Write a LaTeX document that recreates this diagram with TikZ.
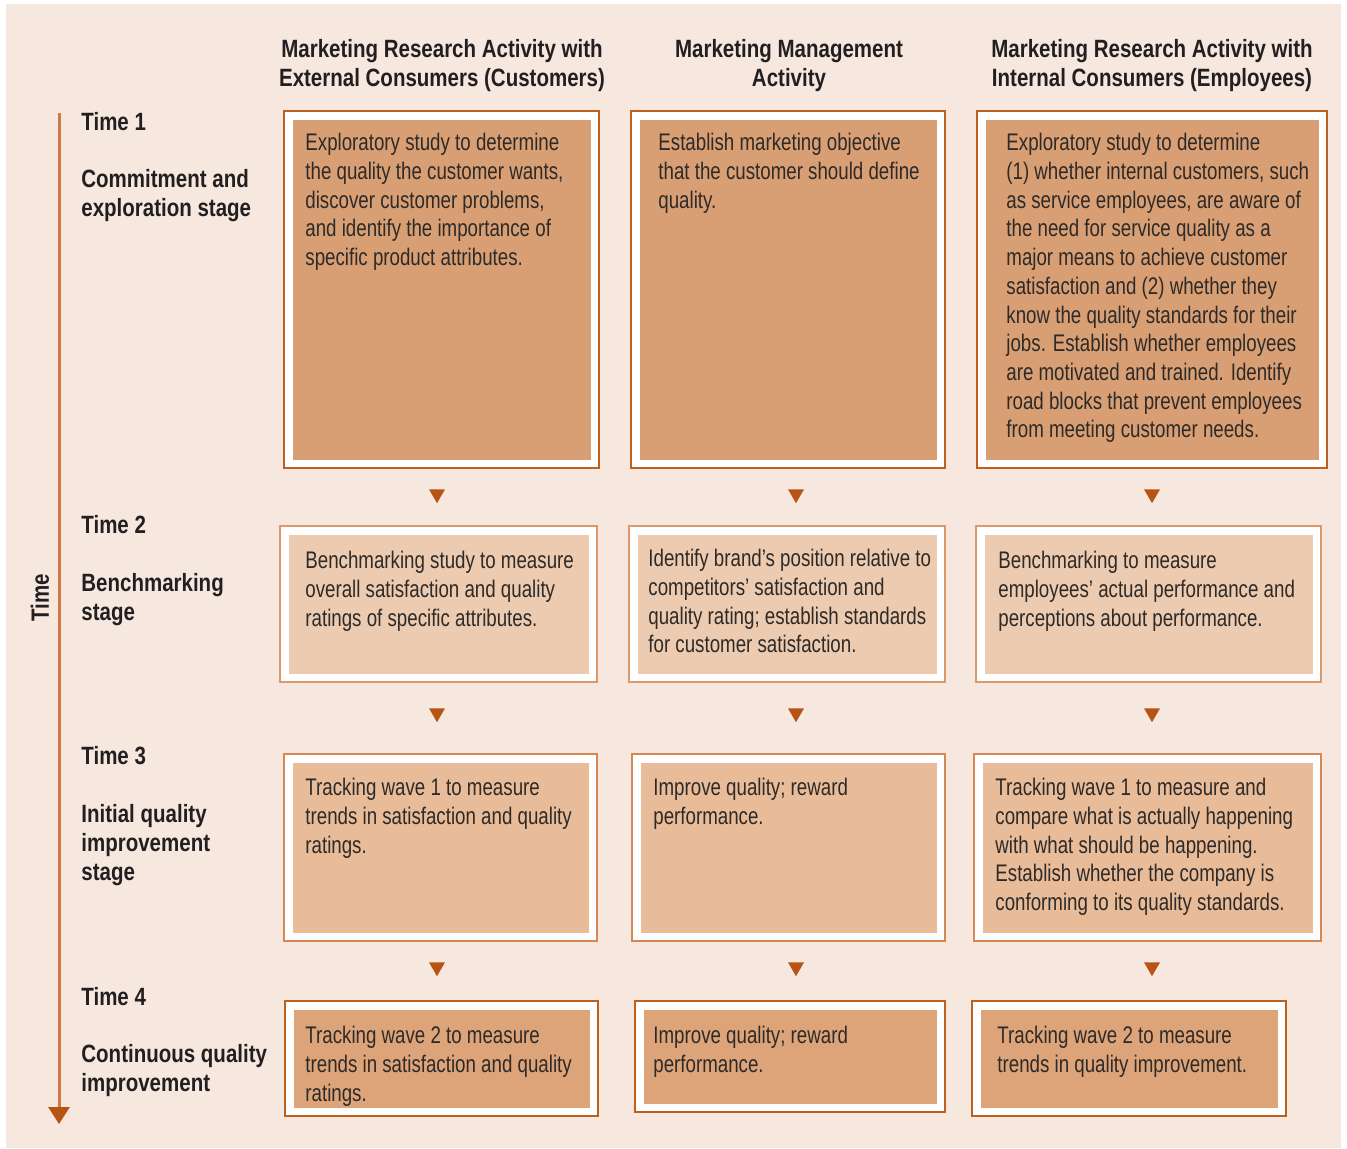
\documentclass[tikz,border=0pt]{standalone}
\usepackage{fontspec}
\setmainfont{Liberation Sans}[FakeStretch=0.78]
\newfontfamily\headfont{Liberation Sans}[FakeStretch=0.82]
\usepackage{tikz}
\usetikzlibrary{shapes.geometric}
\usetikzlibrary{arrows.meta}
\usetikzlibrary{fit}

\definecolor{paper}{HTML}{F6E8DE}
\definecolor{bodyink}{HTML}{2E2A28}
\definecolor{headink}{HTML}{231F20}
\definecolor{markink}{HTML}{B85413}
\definecolor{axisline}{HTML}{CD7A45}
\definecolor{edgeA}{HTML}{BE5F1E}
\definecolor{fillA}{HTML}{D99F74}
\definecolor{edgeB}{HTML}{DD986A}
\definecolor{fillB}{HTML}{ECCBB0}
\definecolor{edgeC}{HTML}{D58755}
\definecolor{fillC}{HTML}{E8BC99}
\definecolor{edgeD}{HTML}{BE5F1E}
\definecolor{fillD}{HTML}{DDA47A}

\tikzset{
    stagebox/.style 2 args={draw=#1, line width=1pt, fill=white, inner sep=0pt,
        path picture={\fill[#2] ([xshift=4.25pt,yshift=-4.25pt]path picture bounding box.north west) rectangle ([xshift=-4.25pt,yshift=4.25pt]path picture bounding box.south east);}},
}

\begin{document}
\begin{tikzpicture}[x=0.5pt, y=-0.5pt,
    bodytext/.style={anchor=north west, align=left, inner sep=0pt, text=bodyink, font=\fontsize{12}{14.35}\selectfont},
    headtext/.style={anchor=north, align=center, inner sep=0pt, text=headink, font=\headfont\bfseries\fontsize{12.5}{14.5}\selectfont},
    stagelabel/.style={anchor=north west, align=left, inner sep=0pt, text=headink, font=\headfont\bfseries\fontsize{12.5}{14.5}\selectfont},
    arrowmark/.style={regular polygon, regular polygon sides=3, shape border rotate=180, fill=markink, inner sep=0pt, minimum size=9.2pt},
    timeline/.style={draw=axisline, line width=1.5pt, -{Triangle[length=8.5pt, width=10.5pt, color=markink]}},
]

    \useasboundingbox (0,0) rectangle (1347,1148);
    \fill[paper] (6,4) rectangle (1341,1148);

    % column headings
    \node[headtext] (headext) at (442,39) {Marketing Research Activity with\\External Consumers (Customers)};
    \node[headtext] (headmgmt) at (789,39) {Marketing Management\\Activity};
    \node[headtext] (headint) at (1152,39) {Marketing Research Activity with\\Internal Consumers (Employees)};

    % time axis
    \coordinate (axistop) at (59,113);
    \coordinate (axisend) at (59,1124);
    \draw[timeline] (axistop) -- (axisend);
    \node[stagelabel, anchor=center, rotate=90] (timeword) at (40,598) {Time};

    % stages
    \node[stagelabel] (time1) at (81,112) {Time 1};
    \node[stagelabel] (stage1) at (81,169) {Commitment and\\exploration stage};
    \node[stagelabel] (time2) at (81,515) {Time 2};
    \node[stagelabel] (stage2) at (81,573) {Benchmarking\\stage};
    \node[stagelabel] (time3) at (81,746) {Time 3};
    \node[stagelabel] (stage3) at (81,804) {Initial quality\\improvement\\stage};
    \node[stagelabel] (time4) at (81,987) {Time 4};
    \node[stagelabel] (stage4) at (81,1044) {Continuous quality\\improvement};

    % boxes
    \node[stagebox={edgeA}{fillA}, fit={(284,111) (599,468)}] (ext1) {};
    \node[stagebox={edgeA}{fillA}, fit={(631,111) (945,468)}] (mgmt1) {};
    \node[stagebox={edgeA}{fillA}, fit={(977,111) (1327,468)}] (int1) {};
    \node[stagebox={edgeB}{fillB}, fit={(280,526) (597,682)}] (ext2) {};
    \node[stagebox={edgeB}{fillB}, fit={(629,526) (945,682)}] (mgmt2) {};
    \node[stagebox={edgeB}{fillB}, fit={(976,526) (1321,682)}] (int2) {};
    \node[stagebox={edgeC}{fillC}, fit={(284,754) (597,941)}] (ext3) {};
    \node[stagebox={edgeC}{fillC}, fit={(632,754) (945,941)}] (mgmt3) {};
    \node[stagebox={edgeC}{fillC}, fit={(974,754) (1321,941)}] (int3) {};
    \node[stagebox={edgeD}{fillD}, fit={(285,1001) (598,1116)}] (ext4) {};
    \node[stagebox={edgeD}{fillD}, fit={(635,1001) (945,1112)}] (mgmt4) {};
    \node[stagebox={edgeD}{fillD}, fit={(972,1001) (1286,1116)}] (int4) {};

    % box texts
    \node[bodytext] (ext1txt) at (305,133) {Exploratory study to determine\\the quality the customer wants,\\discover customer problems,\\and identify the importance of\\specific product attributes.};
    \node[bodytext] (mgmt1txt) at (658,133) {Establish marketing objective\\that the customer should define\\quality.};
    \node[bodytext] (int1txt) at (1006,133) {Exploratory study to determine\\(1) whether internal customers, such\\as service employees, are aware of\\the need for service quality as a\\major means to achieve customer\\satisfaction and (2) whether they\\know the quality standards for their\\jobs. Establish whether employees\\are motivated and trained. Identify\\road blocks that prevent employees\\from meeting customer needs.};
    \node[bodytext] (ext2txt) at (305,551) {Benchmarking study to measure\\overall satisfaction and quality\\ratings of specific attributes.};
    \node[bodytext] (mgmt2txt) at (648,549) {Identify brand’s position relative to\\competitors’ satisfaction and\\quality rating; establish standards\\for customer satisfaction.};
    \node[bodytext] (int2txt) at (998,551) {Benchmarking to measure\\employees’ actual performance and\\perceptions about performance.};
    \node[bodytext] (ext3txt) at (305,778) {Tracking wave 1 to measure\\trends in satisfaction and quality\\ratings.};
    \node[bodytext] (mgmt3txt) at (653,778) {Improve quality; reward\\performance.};
    \node[bodytext] (int3txt) at (995,778) {Tracking wave 1 to measure and\\compare what is actually happening\\with what should be happening.\\Establish whether the company is\\conforming to its quality standards.};
    \node[bodytext] (ext4txt) at (305,1026) {Tracking wave 2 to measure\\trends in satisfaction and quality\\ratings.};
    \node[bodytext] (mgmt4txt) at (653,1026) {Improve quality; reward\\performance.};
    \node[bodytext] (int4txt) at (997,1026) {Tracking wave 2 to measure\\trends in quality improvement.};

    % step markers
    \node[arrowmark] (extstep1) at (437,494) {};
    \node[arrowmark] (mgmtstep1) at (796,494) {};
    \node[arrowmark] (intstep1) at (1152,494) {};
    \node[arrowmark] (extstep2) at (437,713) {};
    \node[arrowmark] (mgmtstep2) at (796,713) {};
    \node[arrowmark] (intstep2) at (1152,713) {};
    \node[arrowmark] (extstep3) at (437,967) {};
    \node[arrowmark] (mgmtstep3) at (796,967) {};
    \node[arrowmark] (intstep3) at (1152,967) {};

\end{tikzpicture}
\end{document}
